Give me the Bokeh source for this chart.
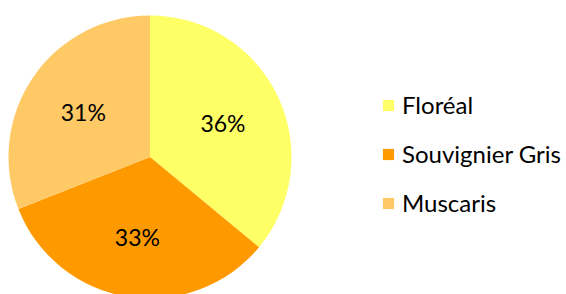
import math
from bokeh.plotting import figure
from bokeh.models import Range1d, ColumnDataSource, Legend, LegendItem
from bokeh.core.properties import value
from bokeh.embed import file_html
from bokeh.resources import INLINE

categories = ["Floréal", "Souvignier Gris", "Muscaris"]
shares = [36, 33, 31]
colors = ["#FFFF66", "#FF9900", "#FFC966"]

W, H = 566, 294
cx, cy, R = 149.5, H - 156.5, 141.5

total = sum(shares)
starts, ends, lx, ly, labels = [], [], [], [], []
a = math.pi / 2
for s in shares:
    sweep = 2 * math.pi * s / total
    starts.append(a)
    ends.append(a - sweep)
    mid = a - sweep / 2
    lx.append(cx + 0.57 * R * math.cos(mid))
    ly.append(cy + 0.57 * R * math.sin(mid))
    labels.append(f"{s}%")
    a -= sweep

src = ColumnDataSource(dict(cat=categories, start=starts, end=ends, color=colors,
                            lx=lx, ly=ly, lab=labels))

p = figure(width=W, height=H, output_backend="svg", toolbar_location=None,
           x_range=Range1d(0, W), y_range=Range1d(0, H), min_border=0)
p.axis.visible = False
p.grid.visible = False
p.outline_line_color = None
p.background_fill_color = "white"

r = p.wedge(x=cx, y=cy, radius=R, radius_units="screen", start_angle="start", end_angle="end",
            direction="clock", fill_color="color", line_color=None, source=src)
p.text(x="lx", y="ly", text="lab", source=src, text_align="center", text_baseline="middle",
       text_font=value("Lato"), text_font_size="23px", text_color="#000000")

legend = Legend(items=[LegendItem(label=c, renderers=[r], index=i) for i, c in enumerate(categories)],
                location=(381, 77), orientation="vertical",
                label_text_font="Lato", label_text_font_size="24px",
                label_text_color="#000000",
                glyph_width=14, glyph_height=14, label_standoff=7,
                label_height=24, spacing=20, padding=0, margin=0,
                border_line_color=None, background_fill_alpha=0)
p.add_layout(legend, "center")

open("out.html", "w").write(file_html(p, INLINE))
